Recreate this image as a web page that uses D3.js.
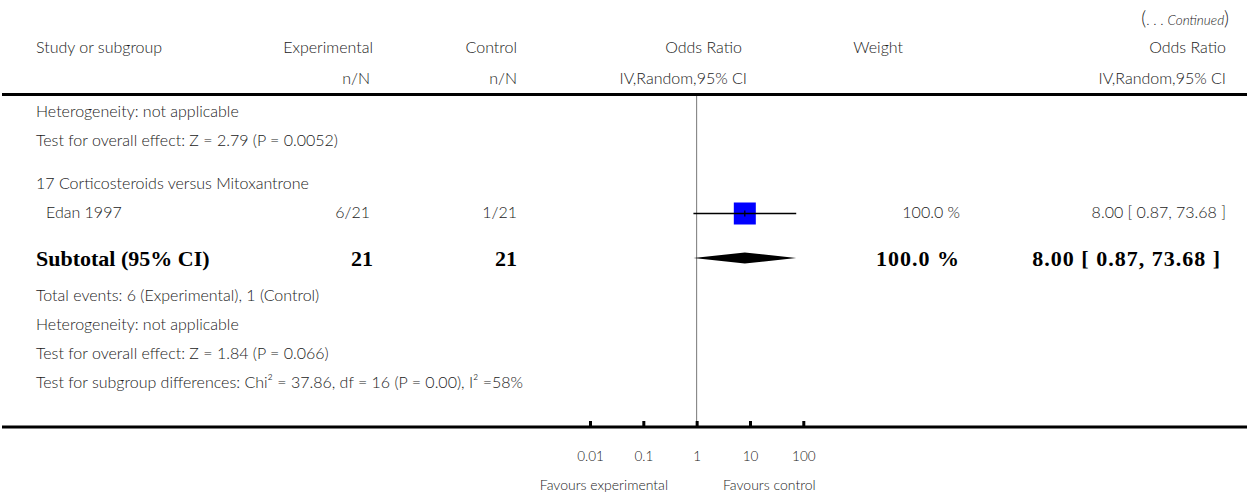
<!DOCTYPE html>
<html>
<head>
<meta charset="utf-8">
<script src="https://cdn.jsdelivr.net/npm/d3@7"></script>
<style>
  body { margin: 0; background: #fff; }
  text { font-family: Lato, "Open Sans", sans-serif; font-weight: 300; fill: #1a1a1a; }
  .bold { font-family: "Liberation Serif", serif; font-weight: 700; fill: #000; }
  .num { letter-spacing: 1px; }
</style>
</head>
<body>
<svg id="plot" width="1247" height="496"></svg>
<script>
// study rows
const studies = ["Edan 1997"];
const expEvents = [6], expTotal = [21];
const ctrlEvents = [1], ctrlTotal = [21];
const oddsRatio = [8.00], ciLow = [0.87], ciHigh = [73.68];
const weights = [100.0];

// subtotal
const subtotal = { expN: 21, ctrlN: 21, or: 8.00, lo: 0.87, hi: 73.68, weight: 100.0 };

const subgroupTitle = "17 Corticosteroids versus Mitoxantrone";
const topNotes = ["Heterogeneity: not applicable", "Test for overall effect: Z = 2.79 (P = 0.0052)"];
const bottomNotes = [
  "Total events: 6 (Experimental), 1 (Control)",
  "Heterogeneity: not applicable",
  "Test for overall effect: Z = 1.84 (P = 0.066)",
  "Test for subgroup differences: Chi² = 37.86, df = 16 (P = 0.00), I² =58%"
];
const axisTicks = [0.01, 0.1, 1, 10, 100];
const favourLabels = ["Favours experimental", "Favours control"];

const svg = d3.select("#plot"),
      width = +svg.attr("width");

const x = d3.scaleLog().domain([0.01, 100]).range([590, 803.3]);
const fmt2 = d3.format(".2f"), fmt1 = d3.format(".1f");
const FS = 16, BFS = 22;

function txt(xp, yp, s, anchor, size, cls) {
  return svg.append("text")
    .attr("x", xp).attr("y", yp)
    .attr("text-anchor", anchor || "start")
    .attr("font-size", size || FS)
    .attr("class", cls || null)
    .text(s);
}

// header
const cont = svg.append("text").attr("x", 1229).attr("y", 25).attr("text-anchor", "end").attr("font-size", 13.5);
cont.append("tspan").attr("font-size", 19).text("(");
cont.append("tspan").attr("font-size", 14).text(". . . ");
cont.append("tspan").attr("font-style", "italic").text("Continued");
cont.append("tspan").attr("font-size", 19).text(")");

txt(36, 53, "Study or subgroup");
txt(373, 53, "Experimental", "end");
txt(517, 53, "Control", "end");
txt(742, 53, "Odds Ratio", "end");
txt(903, 53, "Weight", "end");
txt(1226, 53, "Odds Ratio", "end");
txt(370, 84, "n/N", "end");
txt(517, 84, "n/N", "end");
txt(747, 84, "IV,Random,95% CI", "end");
txt(1226, 84, "IV,Random,95% CI", "end");

svg.append("line").attr("x1", 2).attr("x2", width).attr("y1", 94.5).attr("y2", 94.5)
  .attr("stroke", "#000").attr("stroke-width", 3);

// no-effect line
svg.append("line").attr("x1", x(1)).attr("x2", x(1)).attr("y1", 96).attr("y2", 427)
  .attr("stroke", "#777").attr("stroke-width", 1);

topNotes.forEach((s, i) => txt(36, 117 + i * 29, s));
txt(36, 189, subgroupTitle);

// study rows
studies.forEach((s, i) => {
  const y = 218 + i * 29, cy = y - 4.5;
  txt(46, y, s);
  txt(370, y, `${expEvents[i]}/${expTotal[i]}`, "end");
  txt(517, y, `${ctrlEvents[i]}/${ctrlTotal[i]}`, "end");
  txt(960, y, `${fmt1(weights[i])} %`, "end");
  txt(1226, y, `${fmt2(oddsRatio[i])} [ ${fmt2(ciLow[i])}, ${fmt2(ciHigh[i])} ]`, "end");
  const side = 22 * Math.sqrt(weights[i] / 100);
  svg.append("rect")
    .attr("x", x(oddsRatio[i]) - side / 2).attr("y", cy - side / 2)
    .attr("width", side).attr("height", side)
    .attr("fill", "#0000ff");
  svg.append("line").attr("x1", x(ciLow[i])).attr("x2", x(ciHigh[i]))
    .attr("y1", cy).attr("y2", cy).attr("stroke", "#000").attr("stroke-width", 1.5);
  svg.append("line").attr("x1", x(oddsRatio[i])).attr("x2", x(oddsRatio[i]))
    .attr("y1", cy - 3).attr("y2", cy + 3).attr("stroke", "#000").attr("stroke-width", 1.2);
});

// subtotal
txt(36, 266, "Subtotal (95% CI)", "start", BFS, "bold");
txt(373, 266, subtotal.expN, "end", BFS, "bold");
txt(517, 266, subtotal.ctrlN, "end", BFS, "bold");
txt(960, 266, `${fmt1(subtotal.weight)} %`, "end", BFS, "bold num");
txt(1221, 266, `${fmt2(subtotal.or)} [ ${fmt2(subtotal.lo)}, ${fmt2(subtotal.hi)} ]`, "end", BFS, "bold num");
const dy = 258;
svg.append("path")
  .attr("d", `M${x(subtotal.lo)},${dy} L${x(subtotal.or)},${dy - 5.5} L${x(subtotal.hi)},${dy} L${x(subtotal.or)},${dy + 5.5} Z`)
  .attr("fill", "#000");

bottomNotes.forEach((s, i) => txt(36, 301 + i * 29, s));

// axis
svg.append("line").attr("x1", 2).attr("x2", width).attr("y1", 427).attr("y2", 427)
  .attr("stroke", "#000").attr("stroke-width", 3);
const axis = d3.axisBottom(x).tickValues(axisTicks).tickSize(0).tickFormat(d => d3.format("~g")(d));
const gAxis = svg.append("g").attr("transform", "translate(0,427)").call(axis);
gAxis.select(".domain").remove();
gAxis.selectAll(".tick line").remove();
gAxis.selectAll(".tick").append("line").attr("y1", -6).attr("y2", 0).attr("stroke", "#000").attr("stroke-width", 3);
gAxis.selectAll(".tick text").attr("y", 34).attr("dy", null).attr("font-size", 13.5)
  .attr("font-family", null).attr("fill", "#1a1a1a");

txt(668, 490, favourLabels[0], "end", 14);
txt(723, 490, favourLabels[1], "start", 14);
</script>
</body>
</html>
